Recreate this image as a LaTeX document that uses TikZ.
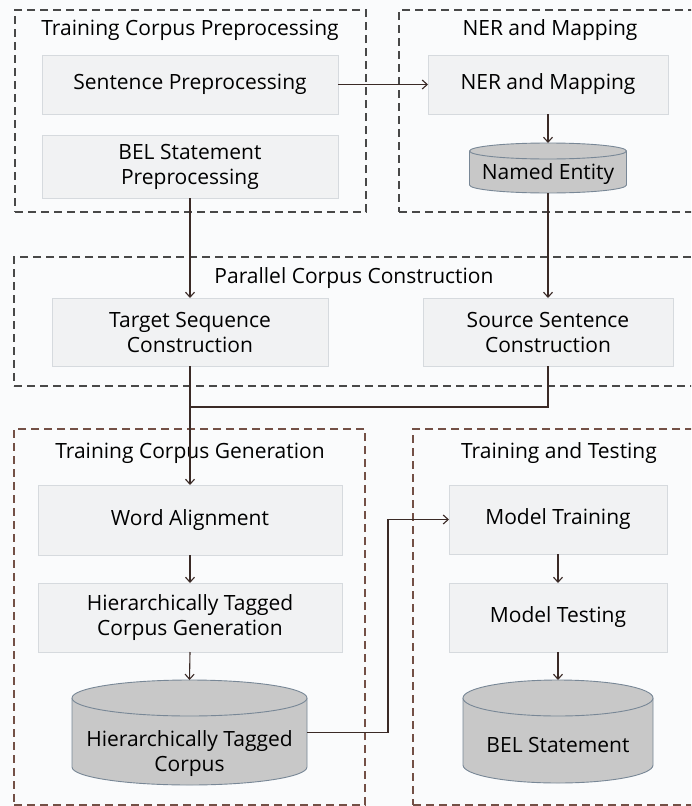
\documentclass[tikz,border=0pt]{standalone}
\usepackage{fontspec}
\setmainfont{Open Sans}
\usetikzlibrary{arrows.meta,calc}
\definecolor{bgc}{RGB}{250,251,252}
\definecolor{boxfill}{RGB}{241,242,243}
\definecolor{boxline}{RGB}{214,218,222}
\definecolor{cylfill}{RGB}{200,200,200}
\definecolor{cylline}{RGB}{120,135,150}
\definecolor{connc}{RGB}{58,42,38}
\definecolor{grpdark}{RGB}{72,72,72}
\definecolor{grpbrown}{RGB}{115,80,70}
\newcommand\mycyl[6]{%
  \node[inner sep=0pt, outer sep=0pt, minimum width=#4*2pt, minimum height=#5*2pt] (#1) at (#2,#3) {};
  \filldraw[cylsty] ($(#1.north west)+(0,#6)$) -- ($(#1.south west)+(0,-#6)$)
    arc[start angle=180, end angle=360, x radius=#4pt, y radius=#6pt]
    -- ($(#1.north east)+(0,#6)$)
    arc[start angle=0, end angle=180, x radius=#4pt, y radius=#6pt] -- cycle;
  \draw[cylsty] ($(#1.north west)+(0,#6)$) arc[start angle=180, end angle=360, x radius=#4pt, y radius=#6pt];
}
\begin{document}
\begin{tikzpicture}[x=1pt,y=-1pt,
  grp/.style={draw=grpdark, line width=1.2pt, dash pattern=on 8pt off 5pt, inner sep=0pt, outer sep=0pt},
  grpb/.style={grp, draw=grpbrown},
  ttl/.style={font=\fontsize{21}{25}\selectfont, text=black, inner sep=0pt},
  box/.style={draw=boxline, fill=boxfill, line width=0.8pt, inner sep=0pt, outer sep=0pt, align=center, font=\fontsize{21}{25}\selectfont},
  cylsty/.style={draw=cylline, fill=cylfill, line width=0.9pt},
  ctext/.style={align=center, font=\fontsize{21}{25}\selectfont, inner sep=0pt},
  conn/.style={draw=connc, line width=1.1pt},
  arr/.style={-{Straight Barb[length=5pt,width=9pt]}}
]
\useasboundingbox (0,0) rectangle (691,806);
\clip (0,0) rectangle (691,806);
\fill[bgc] (0,0) rectangle (691,806);

% groups
\node[grp, minimum width=351, minimum height=202] (g1) at (190.5,111) {};
\node[grp, minimum width=301, minimum height=202] (g2) at (549.5,111) {};
\node[grp, minimum width=690, minimum height=129] (g3) at (359,321.5) {};
\node[grpb, minimum width=351, minimum height=376] (g4) at (189.5,617) {};
\node[grpb, minimum width=290, minimum height=376] (g5) at (558,617) {};

% titles
\node[ttl] (t1) at (190,30) {Training Corpus Preprocessing};
\node[ttl] (t2) at (550,30) {NER and Mapping};
\node[ttl] (t3) at (354,278) {Parallel Corpus Construction};
\node[ttl] (t4) at (190,453) {Training Corpus Generation};
\node[ttl] (t5) at (559,453) {Training and Testing};

% boxes
\node[box, minimum width=296, minimum height=59] (sp) at (190,84.5) {Sentence Preprocessing};
\node[box, minimum width=296, minimum height=63] (bel) at (190,166.5) {BEL Statement\\Preprocessing};
\node[box, minimum width=240, minimum height=59] (ner) at (548,84.5) {NER and Mapping};
\node[box, minimum width=276, minimum height=68] (tsc) at (190,332) {Target Sequence\\Construction};
\node[box, minimum width=250, minimum height=68] (ssc) at (548,332) {Source Sentence\\Construction};
\node[box, minimum width=304, minimum height=70] (wa) at (190,520) {Word Alignment};
\node[box, minimum width=304, minimum height=69] (htcg) at (190,617.5) {Hierarchically Tagged\\Corpus Generation};
\node[box, minimum width=218, minimum height=69] (mt) at (558,519.5) {Model Training};
\node[box, minimum width=218, minimum height=69] (mtest) at (558,617.5) {Model Testing};

% cylinders
\mycyl{ne}{548}{168}{78.5}{25}{8}
\node[ctext] (net) at (548,174) {Named Entity};
\mycyl{htc}{189.5}{732.5}{117.5}{52.5}{18}
\node[ctext] (htct) at (189.5,754) {Hierarchically Tagged\\Corpus};
\mycyl{bs}{558}{731.5}{95}{51.5}{18}
\node[ctext] (bst) at (558,745) {BEL Statement};

% connectors
\draw[conn,arr] (sp.east) -- (ner.west);
\draw[conn,arr] (ner.south) -- (ne.north);
\draw[conn,arr] (bel.south) -- (tsc.north);
\draw[conn,arr] (ne.south) -- (ssc.north);
\coordinate (j) at (190,407);
\draw[conn] (ssc.south) |- (j);
\draw[conn,arr] (tsc.south) -- (wa.north);
\draw[conn,arr] (wa.south) -- (htcg.north);
\draw[conn,arr] (htcg.south) -- (htc.north);
\coordinate (k) at (388,732.5);
\draw[conn,arr] (htc.east) -- (k) |- (mt.west);
\draw[conn,arr] (mt.south) -- (mtest.north);
\draw[conn,arr] (mtest.south) -- (bs.north);
\end{tikzpicture}
\end{document}
